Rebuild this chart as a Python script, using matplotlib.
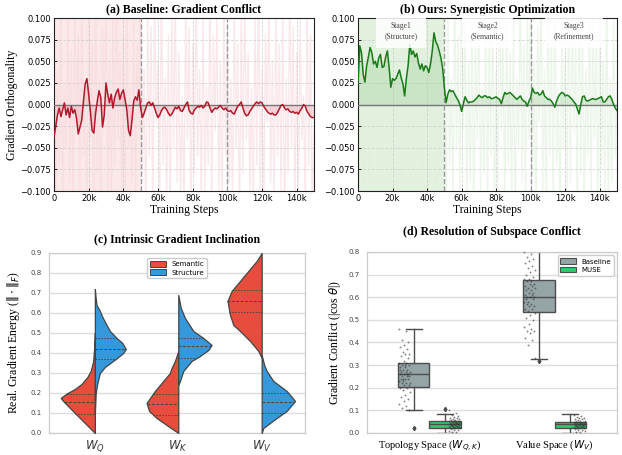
import numpy as np
import matplotlib
matplotlib.use("Agg")
import matplotlib.pyplot as plt
from matplotlib.patches import Patch

# ---------------- data ----------------
steps_k = list(range(0, 151))

smooth_a = [
-0.038,-0.025,-0.012,-0.004,-0.014,-0.006,0.002,-0.012,-0.004,-0.015,
-0.002,-0.010,-0.006,-0.016,-0.034,-0.026,-0.018,0.004,0.024,0.030,
0.012,-0.008,-0.030,-0.033,-0.010,0.004,0.016,0.008,-0.026,-0.012,
0.025,0.012,0.002,0.012,-0.004,0.008,0.014,0.018,0.006,0.013,
0.017,0.006,-0.006,-0.030,-0.036,-0.018,0.004,0.009,0.005,0.017,
-0.004,-0.015,-0.010,-0.004,0.002,0.003,-0.001,0.002,-0.004,-0.010,
-0.015,-0.012,-0.007,-0.004,-0.003,-0.006,-0.010,-0.013,-0.011,-0.007,
-0.003,-0.005,-0.002,-0.007,-0.008,-0.004,0.000,0.003,-0.007,-0.010,
-0.011,-0.006,-0.004,-0.002,-0.003,-0.001,-0.004,-0.002,0.003,0.002,
-0.004,-0.009,-0.006,-0.004,-0.005,-0.003,-0.001,-0.004,-0.006,-0.004,
-0.007,-0.008,-0.007,-0.010,-0.011,-0.006,-0.002,0.000,0.003,-0.004,
-0.010,-0.013,-0.012,-0.008,-0.005,-0.002,0.001,0.003,0.001,0.003,
0.002,-0.002,-0.005,-0.008,-0.010,-0.011,-0.010,-0.012,-0.012,-0.009,
-0.005,-0.001,0.000,-0.004,-0.006,-0.005,-0.008,-0.009,-0.008,-0.010,
-0.009,-0.011,-0.007,-0.004,0.000,-0.002,-0.008,-0.011,-0.014,-0.015,
-0.015]

raw_a = [
0.09,-0.12,0.04,-0.07,0.13,-0.15,0.02,-0.05,0.11,-0.09,
0.06,-0.14,0.12,-0.03,0.08,-0.11,0.15,-0.06,0.01,-0.13,
0.10,-0.04,0.07,-0.12,0.14,-0.08,0.03,-0.15,0.09,-0.02,
0.12,-0.10,0.05,-0.13,0.11,-0.07,0.16,-0.04,0.06,-0.11,
0.08,-0.14,0.13,-0.05,0.02,-0.09,0.10,-0.12,0.07,-0.03,
0.14,-0.08,0.04,-0.15,0.11,-0.06,0.09,-0.13,0.12,-0.02,
0.05,-0.10,0.15,-0.07,0.03,-0.12,0.08,-0.14,0.10,-0.05,
0.13,-0.09,0.06,-0.11,0.01,-0.13,0.12,-0.04,0.09,-0.15,
0.07,-0.08,0.14,-0.06,0.04,-0.12,0.11,-0.10,0.02,-0.07,
0.15,-0.13,0.08,-0.03,0.10,-0.11,0.05,-0.14,0.13,-0.06,
0.09,-0.09,0.03,-0.12,0.12,-0.05,0.07,-0.15,0.11,-0.08,
0.14,-0.04,0.06,-0.10,0.02,-0.13,0.10,-0.07,0.15,-0.11,
0.04,-0.14,0.08,-0.02,0.13,-0.09,0.05,-0.12,0.11,-0.06,
0.07,-0.10,0.12,-0.15,0.03,-0.08,0.14,-0.05,0.09,-0.13,
0.06,-0.11,0.10,-0.04,0.01,-0.12,0.13,-0.07,0.08,-0.14,
-0.03]

smooth_b = [
0.024,0.068,0.060,0.035,0.026,0.045,0.055,0.066,0.060,0.047,
0.050,0.043,0.054,0.058,0.043,0.044,0.055,0.062,0.043,0.020,
0.030,0.028,0.030,0.035,0.040,0.031,0.024,0.010,0.030,0.045,
0.070,0.058,0.062,0.055,0.059,0.048,0.041,0.047,0.039,0.045,
0.043,0.037,0.047,0.062,0.083,0.073,0.069,0.062,0.054,0.042,
0.020,0.002,0.012,0.017,0.015,0.016,0.012,0.008,0.005,0.000,
-0.008,0.001,0.009,0.005,0.002,0.003,0.003,0.004,0.006,0.008,
0.011,0.009,0.008,0.010,0.010,0.008,0.009,0.007,0.007,0.008,
0.009,0.007,0.006,0.001,0.008,0.014,0.012,0.013,0.014,0.012,
0.010,0.008,0.006,0.008,0.010,0.006,0.004,0.003,-0.002,0.004,
0.008,0.019,0.014,0.013,0.014,0.011,0.012,0.016,0.010,0.008,
0.006,0.006,0.004,0.001,-0.003,0.004,0.009,0.012,0.014,0.013,
0.010,0.011,0.010,0.008,0.006,0.003,0.001,-0.005,-0.011,0.000,
0.009,0.010,0.005,0.004,0.005,0.006,0.007,0.006,0.006,0.007,
0.008,0.009,0.003,0.003,0.006,0.009,0.010,0.006,0.000,-0.004,
-0.007]

raw_b = [
0.13,-0.06,0.10,-0.11,0.15,-0.03,0.08,-0.14,0.12,-0.05,
0.16,-0.09,0.04,-0.12,0.11,-0.02,0.14,-0.08,0.07,-0.13,
0.09,-0.04,0.15,-0.10,0.06,-0.15,0.12,-0.01,0.10,-0.07,
0.13,-0.12,0.05,-0.09,0.16,-0.06,0.11,-0.14,0.08,-0.03,
0.14,-0.11,0.07,-0.05,0.12,-0.13,0.09,-0.08,0.15,-0.02,
0.06,-0.14,0.11,-0.07,0.03,-0.12,0.13,-0.05,0.08,-0.10,
0.15,-0.03,0.10,-0.13,0.05,-0.09,0.12,-0.15,0.07,-0.04,
0.14,-0.11,0.02,-0.08,0.11,-0.12,0.09,-0.06,0.13,-0.14,
0.04,-0.10,0.15,-0.03,0.08,-0.13,0.12,-0.07,0.06,-0.11,
0.10,-0.15,0.03,-0.05,0.14,-0.09,0.07,-0.12,0.11,-0.04,
0.13,-0.08,0.05,-0.14,0.09,-0.02,0.15,-0.10,0.04,-0.13,
0.12,-0.06,0.08,-0.11,0.14,-0.07,0.02,-0.15,0.10,-0.05,
0.06,-0.12,0.13,-0.09,0.11,-0.03,0.07,-0.14,0.15,-0.08,
0.09,-0.13,0.04,-0.06,0.12,-0.11,0.10,-0.04,0.08,-0.15,
0.14,-0.07,0.05,-0.10,0.13,-0.12,0.03,-0.09,0.11,-0.06,
0.02]

stage_labels = ["Stage1\n(Structure)", "Stage2\n(Semantic)", "Stage3\n(Refinement)"]
stage_centers_k = [25, 75, 125]

# violin profiles (value, half-width in category units)
violin_cats = ["$W_Q$", "$W_K$", "$W_V$"]
sem_wq_y = [0.00, 0.05, 0.10, 0.155, 0.175, 0.197, 0.22, 0.245, 0.28, 0.31, 0.36, 0.43, 0.50]
sem_wq_w = [0.00, 0.12, 0.24, 0.37, 0.41, 0.34, 0.24, 0.16, 0.09, 0.05, 0.02, 0.008, 0.0]
str_wq_y = [0.10, 0.20, 0.25, 0.30, 0.33, 0.37, 0.40, 0.42, 0.45, 0.475, 0.51, 0.54, 0.58, 0.61, 0.64, 0.68, 0.72]
str_wq_w = [0.00, 0.01, 0.03, 0.06, 0.12, 0.25, 0.34, 0.37, 0.33, 0.26, 0.18, 0.14, 0.09, 0.06, 0.02, 0.008, 0.0]
sem_wk_y = [0.00, 0.04, 0.075, 0.11, 0.15, 0.18, 0.21, 0.26, 0.30, 0.325, 0.36, 0.41]
sem_wk_w = [0.00, 0.14, 0.26, 0.35, 0.38, 0.33, 0.28, 0.18, 0.10, 0.08, 0.04, 0.0]
str_wk_y = [0.24, 0.26, 0.31, 0.36, 0.385, 0.415, 0.44, 0.475, 0.51, 0.575, 0.625, 0.69]
str_wk_w = [0.00, 0.02, 0.06, 0.16, 0.26, 0.36, 0.40, 0.30, 0.18, 0.08, 0.03, 0.0]
sem_wv_y = [0.375, 0.41, 0.46, 0.51, 0.54, 0.59, 0.66, 0.71, 0.76, 0.81, 0.86, 0.90]
sem_wv_w = [0.00, 0.04, 0.14, 0.26, 0.34, 0.38, 0.41, 0.36, 0.26, 0.16, 0.06, 0.0]
str_wv_y = [0.00, 0.025, 0.075, 0.11, 0.16, 0.21, 0.26, 0.31, 0.34, 0.39]
str_wv_w = [0.00, 0.02, 0.18, 0.30, 0.40, 0.30, 0.14, 0.06, 0.03, 0.0]
sem_quartiles = [[0.097, 0.155, 0.197], [0.090, 0.145, 0.197], [0.605, 0.660, 0.715]]
str_quartiles = [[0.370, 0.420, 0.475], [0.375, 0.435, 0.475], [0.100, 0.153, 0.200]]

# box plot statistics
box_groups = ["Topology Space ($W_{Q,K}$)", "Value Space ($W_V$)"]
base_q1 = [0.205, 0.534]
base_med = [0.260, 0.603]
base_q3 = [0.311, 0.675]
base_lo = [0.100, 0.326]
base_hi = [0.459, 0.870]
base_fliers = [[0.022], [0.318]]
muse_q1 = [0.024, 0.024]
muse_med = [0.041, 0.038]
muse_q3 = [0.053, 0.050]
muse_lo = [0.000, 0.000]
muse_hi = [0.083, 0.083]
muse_fliers = [[0.105], []]

strip_base_topo = [0.46,0.45,0.41,0.40,0.39,0.38,0.37,0.36,0.35,0.35,0.34,0.33,0.32,0.31,0.31,
                   0.30,0.30,0.29,0.29,0.28,0.28,0.27,0.27,0.27,0.26,0.26,0.26,0.25,0.25,0.25,
                   0.24,0.24,0.24,0.23,0.23,0.22,0.22,0.21,0.21,0.20,0.20,0.19,0.18,0.17,0.16,
                   0.15,0.14,0.13,0.12,0.11,0.10,0.30,0.28,0.26,0.24,0.22]
strip_muse_topo = [0.102,0.090,0.080,0.075,0.070,0.068,0.065,0.062,0.060,0.058,0.056,0.055,0.053,
                   0.052,0.050,0.049,0.048,0.047,0.046,0.045,0.044,0.043,0.042,0.041,0.040,0.040,
                   0.039,0.038,0.037,0.036,0.035,0.034,0.033,0.032,0.031,0.030,0.029,0.028,0.027,
                   0.026,0.025,0.024,0.022,0.020,0.018,0.015,0.012,0.010,0.006,0.003]
strip_base_val = [0.80,0.79,0.78,0.77,0.76,0.75,0.74,0.73,0.72,0.71,0.70,0.69,0.68,0.68,0.67,
                  0.67,0.66,0.66,0.65,0.65,0.64,0.64,0.63,0.63,0.62,0.62,0.61,0.61,0.60,0.60,
                  0.60,0.59,0.59,0.58,0.58,0.57,0.57,0.56,0.56,0.55,0.55,0.54,0.53,0.52,0.51,
                  0.50,0.48,0.47,0.46,0.45,0.45,0.44,0.42,0.41,0.39,0.33]
strip_muse_val = [0.078,0.075,0.072,0.068,0.065,0.062,0.060,0.058,0.055,0.053,0.051,0.050,0.048,
                  0.047,0.046,0.045,0.044,0.043,0.042,0.041,0.040,0.039,0.038,0.037,0.036,0.035,
                  0.034,0.033,0.032,0.031,0.030,0.029,0.028,0.027,0.026,0.025,0.024,0.022,0.020,
                  0.018,0.015,0.012,0.010,0.006,0.003]

# ---------------- style ----------------
SERIF = ["Liberation Serif", "DejaVu Serif"]
RED = "#b2182b"
GREEN = "#1a7a1a"

fig = plt.figure(figsize=(6.22, 4.55), dpi=100)

def fmt_y(v):
    s = f"{abs(v):.3f}"
    return ("\u2212" + s) if v < -1e-9 else s

def line_panel(ax, smooth, raw, color, fillc, spanc, rawc, title):
    x = np.array(steps_k, dtype=float)
    ax.axvspan(0, 50, color=spanc, zorder=0, lw=0)
    ax.plot(x, raw, color=rawc, lw=1.0, alpha=0.6, zorder=1)
    ax.fill_between(x, smooth, 0, color=fillc, alpha=0.35, lw=0, zorder=2)
    ax.axhline(0, color="#777777", lw=1.0, zorder=3)
    for xv in (50, 100):
        ax.axvline(xv, color="#999999", ls="--", lw=1.0, zorder=3)
    ax.plot(x, smooth, color=color, lw=1.1, zorder=4)
    ax.set_xlim(0, 150)
    ax.set_ylim(-0.1, 0.1)
    xt = [0, 20, 40, 60, 80, 100, 120, 140]
    ax.set_xticks(xt)
    ax.set_xticklabels(["0" if v == 0 else f"{v}k" for v in xt])
    yt = [-0.1, -0.075, -0.05, -0.025, 0.0, 0.025, 0.05, 0.075, 0.1]
    ax.set_yticks(yt)
    ax.set_yticklabels([fmt_y(v) for v in yt])
    ax.tick_params(labelsize=6, direction="in", length=2, width=0.6, pad=2)
    ax.grid(True, ls="--", color="#cccccc", lw=0.6, alpha=0.8, zorder=1)
    for s in ax.spines.values():
        s.set_linewidth(0.8)
        s.set_color("#222222")
    ax.set_xlabel("Training Steps", family=SERIF, fontsize=8.5, labelpad=1)
    ax.set_title(title, family=SERIF, fontsize=8.5, fontweight="bold", pad=4)

ax_a = fig.add_axes([0.0868, 0.5802, 0.418, 0.380])
line_panel(ax_a, smooth_a, raw_a, RED, "#e9a0a8", "#fbe9ea", "#f7d9dc",
           "(a) Baseline: Gradient Conflict")
ax_a.set_ylabel("Gradient Orthogonality", family=SERIF, fontsize=8.5, labelpad=2)

ax_b = fig.add_axes([0.5756, 0.5802, 0.4164, 0.380])
line_panel(ax_b, smooth_b, raw_b, GREEN, "#9fd09a", "#e3f1df", "#e2f0de",
           "(b) Ours: Synergistic Optimization")
for lbl, cx in zip(stage_labels, stage_centers_k):
    ax_b.text(cx, 0.085, lbl, ha="center", va="center", family=SERIF, fontsize=5.5,
              color="#444444", linespacing=1.3, zorder=6,
              bbox=dict(boxstyle="square,pad=1.1", fc="white", ec="none", alpha=0.85))

# ---------------- (c) violins ----------------
ax_c = fig.add_axes([0.0788, 0.0484, 0.4116, 0.3956])
SEM_C = "#e74c3c"
STR_C = "#3498db"
EDGE = "#444444"
sem_profiles = [(sem_wq_y, sem_wq_w), (sem_wk_y, sem_wk_w), (sem_wv_y, sem_wv_w)]
str_profiles = [(str_wq_y, str_wq_w), (str_wk_y, str_wk_w), (str_wv_y, str_wv_w)]
for i in range(len(violin_cats)):
    ys, ws = sem_profiles[i]
    ys = np.array(ys); ws = np.array(ws)
    ax_c.fill_betweenx(ys, i - ws, i, facecolor=SEM_C, edgecolor=EDGE, lw=0.9, zorder=3)
    for k, q in enumerate(sem_quartiles[i]):
        w = np.interp(q, ys, ws)
        ax_c.plot([i - w, i], [q, q], color=EDGE, lw=0.7,
                  ls=(0, (3, 1.5)) if k == 1 else (0, (1.5, 1.5)), zorder=4)
    ys, ws = str_profiles[i]
    ys = np.array(ys); ws = np.array(ws)
    ax_c.fill_betweenx(ys, i, i + ws, facecolor=STR_C, edgecolor=EDGE, lw=0.9, zorder=3)
    for k, q in enumerate(str_quartiles[i]):
        w = np.interp(q, ys, ws)
        ax_c.plot([i, i + w], [q, q], color=EDGE, lw=0.7,
                  ls=(0, (3, 1.5)) if k == 1 else (0, (1.5, 1.5)), zorder=4)
ax_c.set_xlim(-0.55, 2.52)
ax_c.set_ylim(0, 0.9)
ax_c.set_yticks(np.round(np.arange(0, 0.91, 0.1), 1))
ax_c.set_xticks(range(3))
ax_c.set_xticklabels(violin_cats, fontsize=8.5)
ax_c.tick_params(axis="y", labelsize=5, colors="#444444", length=0, pad=5)
ax_c.tick_params(axis="x", length=0, pad=4, colors="#333333")
ax_c.yaxis.grid(True, color="#dddddd", lw=1.0, zorder=0)
ax_c.set_axisbelow(True)
for s in ax_c.spines.values():
    s.set_color("#cccccc")
    s.set_linewidth(0.9)
ax_c.set_ylabel(r"Real. Gradient Energy ($\|\cdot\|_F$)", family=SERIF, fontsize=8.5, labelpad=6)
ax_c.set_title("(c) Intrinsic Gradient Inclination", family=SERIF, fontsize=8.5,
               fontweight="bold", pad=8)
ax_c.legend(handles=[Patch(facecolor=SEM_C, edgecolor=EDGE, lw=0.7, label="Semantic"),
                     Patch(facecolor=STR_C, edgecolor=EDGE, lw=0.7, label="Structure")],
            loc="upper center", bbox_to_anchor=(0.5, 0.99), fontsize=5, frameon=True,
            framealpha=1, edgecolor="#cccccc", handlelength=2.2, handleheight=0.9,
            borderpad=0.4, labelspacing=0.3)

# ---------------- (d) boxes ----------------
ax_d = fig.add_axes([0.59, 0.0484, 0.402, 0.3978])
BASE_C = "#95a5a6"
MUSE_C = "#2ecc71"
BEDGE = "#4d4d4d"

def make_stats(q1, med, q3, lo, hi, fl):
    return [dict(q1=q1[i], med=med[i], q3=q3[i], whislo=lo[i], whishi=hi[i], fliers=fl[i])
            for i in range(len(q1))]

base_stats = make_stats(base_q1, base_med, base_q3, base_lo, base_hi, base_fliers)
muse_stats = make_stats(muse_q1, muse_med, muse_q3, muse_lo, muse_hi, muse_fliers)
common = dict(widths=0.25, patch_artist=True, showfliers=True,
              medianprops=dict(color=BEDGE, lw=1.0),
              whiskerprops=dict(color=BEDGE, lw=1.0),
              capprops=dict(color=BEDGE, lw=1.0),
              flierprops=dict(marker="d", markersize=2.2, markerfacecolor=BEDGE,
                              markeredgecolor=BEDGE))
bb = ax_d.bxp(base_stats, positions=[-0.125, 0.875], **common)
for p in bb["boxes"]:
    p.set_facecolor(BASE_C); p.set_edgecolor(BEDGE); p.set_linewidth(1.0)
mb = ax_d.bxp(muse_stats, positions=[0.125, 1.125], **common)
for p in mb["boxes"]:
    p.set_facecolor(MUSE_C); p.set_edgecolor(BEDGE); p.set_linewidth(1.0)

def jitter(n):
    return (((np.arange(n) * 0.6180339887) % 1.0) - 0.5) * 0.09

for vals, pos in [(strip_base_topo, -0.2), (strip_muse_topo, 0.2),
                  (strip_base_val, 0.8), (strip_muse_val, 1.2)]:
    v = np.array(vals)
    ax_d.scatter(pos + jitter(len(v)), v, s=1.8, color="#333333", alpha=0.6,
                 lw=0, zorder=5)

ax_d.set_xlim(-0.5, 1.5)
ax_d.set_ylim(0, 0.8)
ax_d.set_xticks([0, 1])
ax_d.set_xticklabels(box_groups, family=SERIF, fontsize=7.5)
ax_d.set_yticks(np.round(np.arange(0, 0.81, 0.1), 1))
ax_d.tick_params(axis="y", labelsize=5, colors="#444444", length=0, pad=5)
ax_d.tick_params(axis="x", length=0, pad=4)
ax_d.yaxis.grid(True, color="#dddddd", lw=1.0, zorder=0)
ax_d.set_axisbelow(True)
for s in ax_d.spines.values():
    s.set_color("#cccccc")
    s.set_linewidth(0.9)
ax_d.set_ylabel(r"Gradient Conflict (|cos $\theta$|)", family=SERIF, fontsize=8.5, labelpad=4)
ax_d.set_title("(d) Resolution of Subspace Conflict", family=SERIF, fontsize=8.5,
               fontweight="bold", pad=12)
ax_d.legend(handles=[Patch(facecolor=BASE_C, edgecolor=BEDGE, lw=0.8, label="Baseline"),
                     Patch(facecolor=MUSE_C, edgecolor=BEDGE, lw=0.8, label="MUSE")],
            loc="upper right", fontsize=5, frameon=True, framealpha=1, edgecolor="#cccccc",
            handlelength=2.2, handleheight=0.9, borderpad=0.4, labelspacing=0.3)

fig.savefig("out.png", dpi=100)
